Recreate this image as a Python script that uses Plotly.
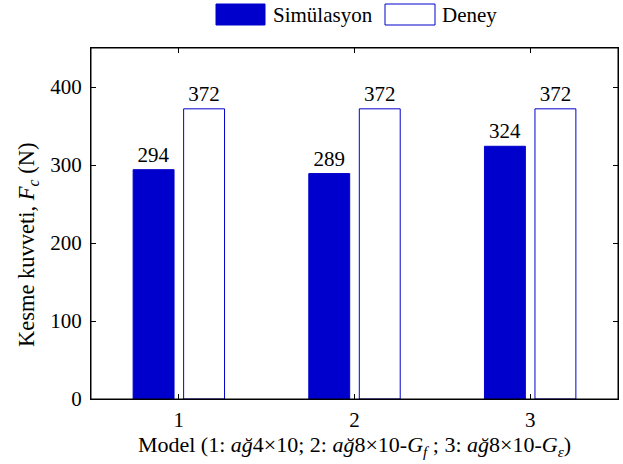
import plotly.graph_objects as go

categories = [1, 2, 3]
tick_labels = ["1", "2", "3"]
sim_values = [294, 289, 324]
exp_values = [372, 372, 372]
series_names = ["Simülasyon", "Deney"]
x_title = "Model (1: <i>ağ</i>4×10; 2: <i>ağ</i>8×10-<i>G</i><sub><i>f</i></sub> ; 3: <i>ağ</i>8×10-<i>G</i><sub><i>ε</i></sub>)"
y_title = "Kesme kuvveti, <i>F</i><sub><i>c</i></sub> (N)"

BLUE = "#0000CC"
FONT = "Times New Roman"
FS = 21

W, H = 623, 464
L, R, T, B = 91, 5, 48, 65
pw, ph = W - L - R, H - T - B


def px(x):
    return (x - L) / pw


def py(y):
    return (H - B - y) / ph


fig = go.Figure()
fig.add_trace(go.Bar(
    x=categories, y=sim_values, name=series_names[0],
    marker=dict(color=BLUE, line=dict(color=BLUE, width=1)),
    text=[str(v) for v in sim_values], textposition="outside",
    textfont=dict(family=FONT, size=FS, color="black"),
    cliponaxis=False, constraintext="none", showlegend=False,
))
fig.add_trace(go.Bar(
    x=categories, y=exp_values, name=series_names[1],
    marker=dict(color="white", line=dict(color=BLUE, width=1)),
    text=[str(v) for v in exp_values], textposition="outside",
    textfont=dict(family=FONT, size=FS, color="black"),
    cliponaxis=False, constraintext="none", showlegend=False,
))

# manual legend (MATLAB-like wide swatches) and axes frame
shapes = [
    dict(type="rect", xref="paper", yref="paper", x0=0, x1=1, y0=0, y1=1,
         line=dict(color="black", width=1), fillcolor="rgba(0,0,0,0)", layer="above"),
    dict(type="rect", xref="paper", yref="paper",
         x0=px(216), x1=px(265), y0=py(25), y1=py(4),
         fillcolor=BLUE, line=dict(color=BLUE, width=1)),
    dict(type="rect", xref="paper", yref="paper",
         x0=px(385), x1=px(435), y0=py(25), y1=py(4),
         fillcolor="white", line=dict(color=BLUE, width=1)),
]
annotations = [
    dict(xref="paper", yref="paper", x=px(271), y=py(15), text=series_names[0],
         showarrow=False, xanchor="left", yanchor="middle",
         font=dict(family=FONT, size=FS, color="black")),
    dict(xref="paper", yref="paper", x=px(440), y=py(15), text=series_names[1],
         showarrow=False, xanchor="left", yanchor="middle",
         font=dict(family=FONT, size=FS, color="black")),
    dict(xref="paper", yref="paper", x=px(28), y=py(245), text=y_title,
         showarrow=False, xanchor="center", yanchor="middle", textangle=-90,
         font=dict(family=FONT, size=22.5, color="black")),
]

fig.update_layout(
    width=W, height=H,
    margin=dict(l=L, r=R, t=T, b=B, pad=0, autoexpand=False),
    paper_bgcolor="white", plot_bgcolor="white",
    barmode="group", bargap=0.425, bargroupgap=0.19,
    font=dict(family=FONT, size=FS, color="black"),
    shapes=shapes, annotations=annotations,
    showlegend=False,
)
fig.update_xaxes(
    range=[0.5, 3.5], tickvals=categories, ticktext=tick_labels,
    ticks="inside", ticklen=5, tickcolor="black", tickwidth=1,
    tickfont=dict(family=FONT, size=FS, color="black"), ticklabelstandoff=2,
    showline=True, linecolor="black", linewidth=1, mirror="ticks",
    showgrid=False, zeroline=False, automargin=False,
    title=dict(text=x_title, font=dict(family=FONT, size=22, color="black"), standoff=2),
)
fig.update_yaxes(
    range=[0, 450], tickvals=[0, 100, 200, 300, 400],
    ticks="inside", ticklen=5, tickcolor="black", tickwidth=1,
    tickfont=dict(family=FONT, size=FS, color="black"), ticklabelstandoff=4,
    showline=True, linecolor="black", linewidth=1, mirror="ticks",
    showgrid=False, zeroline=False, automargin=False,
)

fig.write_html(
    "out.html",
    config={"displayModeBar": False},
    post_script="document.body.style.margin='0';document.body.style.overflow='hidden';",
)
